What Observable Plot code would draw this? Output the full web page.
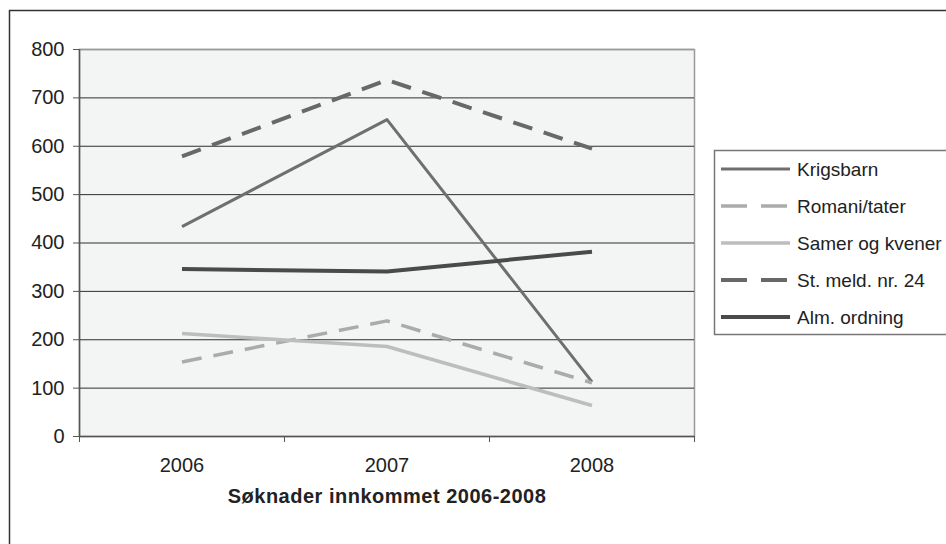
<!DOCTYPE html>
<html>
<head>
<meta charset="utf-8">
<script src="https://cdn.jsdelivr.net/npm/d3@7"></script>
<script src="https://cdn.jsdelivr.net/npm/@observablehq/plot@0.6"></script>
<style>
  html, body { margin: 0; padding: 0; background: #fff; }
  #chart svg { display: block; }
</style>
</head>
<body>
<div id="chart"></div>
<script>
// ---- data ----
const years = [2006, 2007, 2008];
const seriesNames = ["Krigsbarn", "Romani/tater", "Samer og kvener", "St. meld. nr. 24", "Alm. ordning"];
const krigsbarn = [434, 655, 113];
const romani = [154, 239, 111];
const samer = [213, 186, 64];
const stmeld = [579, 737, 595];
const alm = [346, 341, 382];
const yTicks = [0, 100, 200, 300, 400, 500, 600, 700, 800];
const xTitle = "Søknader innkommet 2006-2008";

const seriesValues = [krigsbarn, romani, samer, stmeld, alm];
const seriesStyle = [
  {stroke: "#6f6f6f", width: 3, dash: null},
  {stroke: "#ababab", width: 3.5, dash: "20,12"},
  {stroke: "#bdbdbd", width: 3.5, dash: null},
  {stroke: "#686868", width: 4, dash: "20,12"},
  {stroke: "#4a4a4a", width: 4, dash: null}
];

const rows = [];
seriesNames.forEach((s, i) => years.forEach((y, j) => rows.push({series: s, year: y, value: seriesValues[i][j]})));
const boundaries = [years[0] - 0.5, ...years.map(y => y + 0.5)];
const gridTicks = yTicks.filter(t => t > 0 && t < d3.max(yTicks));

const font = "'Liberation Sans', Arial, sans-serif";

function decor(index, scales, values, dimensions) {
  const g = d3.create("svg:g");
  // outer chart border (left and top visible)
  g.append("rect").attr("x", 9.5).attr("y", 10.5).attr("width", 1000).attr("height", 600)
    .attr("fill", "none").attr("stroke", "#333").attr("stroke-width", 1.5);
  // legend
  const lx = 714, ly = 150;
  g.append("rect").attr("x", lx + 0.5).attr("y", ly + 0.5).attr("width", 400).attr("height", 184)
    .attr("fill", "#fff").attr("stroke", "#777").attr("stroke-width", 1.5);
  seriesNames.forEach((name, i) => {
    const cy = 169 + i * 37;
    const st = seriesStyle[i];
    g.append("line").attr("x1", 721).attr("x2", 790).attr("y1", cy).attr("y2", cy)
      .attr("stroke", st.stroke).attr("stroke-width", st.width)
      .attr("stroke-dasharray", st.dash ? "26,14" : null);
    g.append("text").attr("x", 797).attr("y", cy).attr("dy", "0.35em")
      .attr("text-anchor", "start")
      .attr("font-family", font).attr("font-size", 19).attr("fill", "#222").text(name);
  });
  return g.node();
}

const marks = [
  Plot.frame({fill: "#f3f4f4", stroke: "#9a9a9a", strokeWidth: 1.5}),
  Plot.ruleY(gridTicks, {stroke: "#2e2e2e", strokeWidth: 1}),
  Plot.ruleY([d3.max(yTicks)], {stroke: "#9a9a9a", strokeWidth: 1.5}),
  Plot.ruleX([boundaries[0]], {stroke: "#555", strokeWidth: 1.5}),
  Plot.ruleY([0], {stroke: "#555", strokeWidth: 1.5}),
  Plot.axisY({ticks: yTicks, tickSize: 6, tickPadding: 9, stroke: "#555", fontSize: 20, fill: "#222", label: null}),
  Plot.axisX({ticks: years, tickSize: 0, tickPadding: 21, tickFormat: d => String(d), fontSize: 20, fill: "#222", label: null}),
  Plot.axisX({ticks: boundaries, tickSize: 6, tickFormat: () => "", stroke: "#555", label: null}),
];
seriesNames.forEach((name, i) => {
  const st = seriesStyle[i];
  marks.push(Plot.line(rows.filter(r => r.series === name), {
    x: "year", y: "value", stroke: st.stroke, strokeWidth: st.width,
    strokeDasharray: st.dash || undefined, strokeLinejoin: "round", strokeLinecap: "butt"
  }));
});
marks.push(Plot.text([xTitle], {x: d3.mean(years), frameAnchor: "bottom", dy: 60, text: d => d,
  fontSize: 20, fontWeight: "bold", fill: "#222", lineAnchor: "middle", textAnchor: "middle"}));
marks.push(decor);

const chart = Plot.plot({
  width: 946,
  height: 544,
  marginLeft: 79,
  marginRight: 252,
  marginTop: 49,
  marginBottom: 108,
  style: {fontFamily: font, fontSize: "20px", background: "#fff", overflow: "visible"},
  x: {type: "linear", domain: [boundaries[0], boundaries[boundaries.length - 1]], axis: null},
  y: {domain: [0, d3.max(yTicks)], axis: null},
  marks
});
chart.querySelectorAll("text").forEach(t => {
  if (t.textContent === xTitle) t.setAttribute("letter-spacing", "0.5");
});
document.getElementById("chart").appendChild(chart);
</script>
</body>
</html>
